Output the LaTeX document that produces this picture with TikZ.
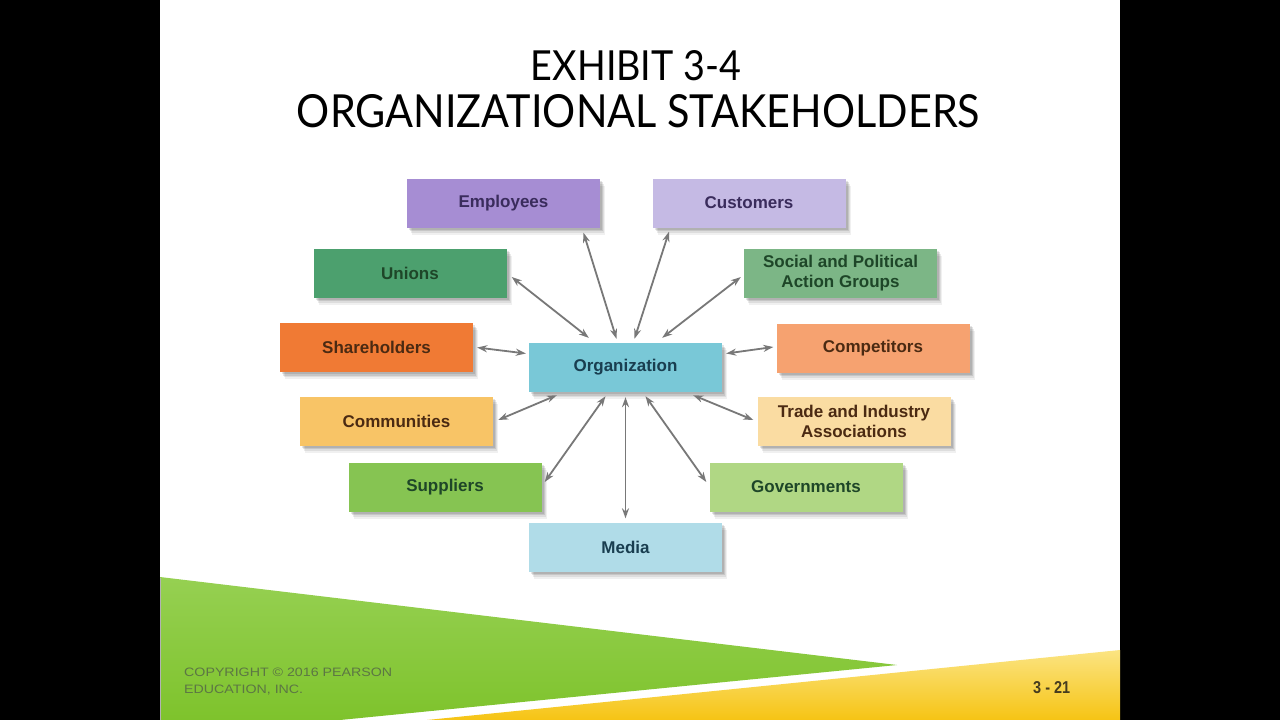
\documentclass[tikz,border=0pt]{standalone}
\usepackage{graphicx}
\usepackage{fontspec}
\setmainfont{Liberation Sans}
\newfontfamily\titlefont{Lato}
\usetikzlibrary{arrows.meta,calc,shadows}
\definecolor{cEmp}{RGB}{166,141,211}
\definecolor{cCus}{RGB}{197,186,228}
\definecolor{cUni}{RGB}{76,160,110}
\definecolor{cSoc}{RGB}{124,182,134}
\definecolor{cSha}{RGB}{240,122,52}
\definecolor{cCom}{RGB}{246,162,112}
\definecolor{cOrg}{RGB}{121,200,215}
\definecolor{cCmt}{RGB}{248,196,102}
\definecolor{cTra}{RGB}{250,220,162}
\definecolor{cSup}{RGB}{134,196,82}
\definecolor{cGov}{RGB}{176,215,132}
\definecolor{cMed}{RGB}{176,220,232}
\definecolor{tPur}{RGB}{58,44,92}
\definecolor{tGrn}{RGB}{30,70,40}
\definecolor{tBrn}{RGB}{75,42,18}
\definecolor{tBlu}{RGB}{25,62,80}
\definecolor{arrowgray}{RGB}{120,120,120}
\definecolor{copyc}{RGB}{92,118,68}
\definecolor{numc}{RGB}{70,60,30}
\definecolor{g1}{RGB}{150,208,82}
\definecolor{g2}{RGB}{192,229,142}
\definecolor{g3}{RGB}{126,195,44}
\definecolor{y1}{RGB}{251,228,130}
\definecolor{y2}{RGB}{248,208,62}
\definecolor{y3}{RGB}{246,196,20}
\newcommand\boxfont{\fontsize{17}{20}\selectfont\bfseries}
\tikzset{
  sbox/.style={rectangle, minimum width=193pt, minimum height=49pt, inner sep=0pt,
    font=\boxfont, align=center,
    general shadow={fill=black, opacity=0.06, shadow xshift=5pt, shadow yshift=-7pt},
    general shadow={fill=black, opacity=0.08, shadow xshift=4pt, shadow yshift=-5pt},
    general shadow={fill=black, opacity=0.10, shadow xshift=3pt, shadow yshift=-3.5pt},
    general shadow={fill=black, opacity=0.10, shadow xshift=2pt, shadow yshift=-2pt}},
  link/.style={draw=arrowgray, line width=1.8pt,
    {Stealth[length=10pt,width=7pt]}-{Stealth[length=10pt,width=7pt]}},
  plain/.style={inner sep=0pt}
}
\begin{document}
\begin{tikzpicture}[x=1pt,y=-1pt]
\useasboundingbox (0,0) rectangle (1280,720);
\fill[black] (0,0) rectangle (1280,720);
\fill[white] (160,0) rectangle (1120,720);
% footer bands
\shade[top color=g1, middle color=g2, bottom color=g3] (160,577) -- (897,665) -- (340,720) -- (160,720) -- cycle;
\shade[top color=y1, middle color=y2, bottom color=y3] (427,720) -- (1120,650) -- (1120,720) -- cycle;
\draw[gray!60, line width=1pt] (160.5,578) -- (160.5,720);
% title
\node[plain, anchor=base] (t1) at (636,80) {\resizebox{210pt}{30pt}{\titlefont EXHIBIT 3-4}};
\node[plain, anchor=base] (t2) at (638.5,127) {\resizebox{683pt}{33pt}{\titlefont ORGANIZATIONAL STAKEHOLDERS}};
% boxes
\node[sbox, fill=cEmp, text=tPur] (emp) at (503.5,203) {Employees};
\node[sbox, fill=cCus, text=tPur] (cus) at (749,203) {Customers};
\node[sbox, fill=cUni, text=tGrn] (uni) at (410,273) {Unions};
\node[sbox, fill=cSoc, text=tGrn] (soc) at (840.5,273) {Social and Political\\Action Groups};
\node[sbox, fill=cSha, text=tBrn] (sha) at (376.5,347.5) {Shareholders};
\node[sbox, fill=cCom, text=tBrn] (com) at (873,348) {Competitors};
\node[sbox, fill=cOrg, text=tBlu] (org) at (625.5,367.5) {Organization};
\node[sbox, fill=cCmt, text=tBrn] (cmt) at (396.5,421) {Communities};
\node[sbox, fill=cTra, text=tBrn] (tra) at (854,421) {Trade and Industry\\Associations};
\node[sbox, fill=cSup, text=tGrn] (sup) at (445,487) {Suppliers};
\node[sbox, fill=cGov, text=tGrn] (gov) at (806,487) {Governments};
\node[sbox, fill=cMed, text=tBlu] (med) at (625.5,547) {Media};
% connectors
\draw[link] ($(emp.south)+(80,5)$) -- ($(org.north)+(-9,-4)$);
\draw[link] ($(cus.south)+(-80,4)$) -- ($(org.north)+(9,-4)$);
\draw[link] ($(uni.east)+(5,4)$) -- ($(org.north west)+(60,-5)$);
\draw[link] ($(soc.west)+(-3,4)$) -- ($(org.north east)+(-60,-5)$);
\draw[link] ($(sha.east)+(4,0)$) -- ($(org.west)+(-3,-14)$);
\draw[link] ($(org.east)+(4,-14)$) -- ($(com.west)+(-3,-1)$);
\draw[link] ($(cmt.east)+(5,-1)$) -- ($(org.south west)+(28,3)$);
\draw[link] ($(sup.east)+(3,-5)$) -- ($(org.south)+(-20,4)$);
\draw[link] ($(org.south)+(0,5)$) -- ($(med.north)+(0,-4)$);
\draw[link] ($(org.south)+(20,4)$) -- ($(gov.west)+(-3,-5)$);
\draw[link] ($(org.south east)+(-29,3)$) -- ($(tra.west)+(-4,-1)$);
% footer text
\node[plain, anchor=base west, text=copyc] (cp1) at (184,676.5) {\resizebox{208pt}{8.5pt}{COPYRIGHT © 2016 PEARSON}};
\node[plain, anchor=base west, text=copyc] (cp2) at (184,693) {\resizebox{119pt}{8.5pt}{EDUCATION, INC.}};
\node[plain, anchor=base west, text=numc] (pg) at (1033,693) {\resizebox{37pt}{12pt}{\bfseries 3 - 21}};
\end{tikzpicture}
\end{document}
